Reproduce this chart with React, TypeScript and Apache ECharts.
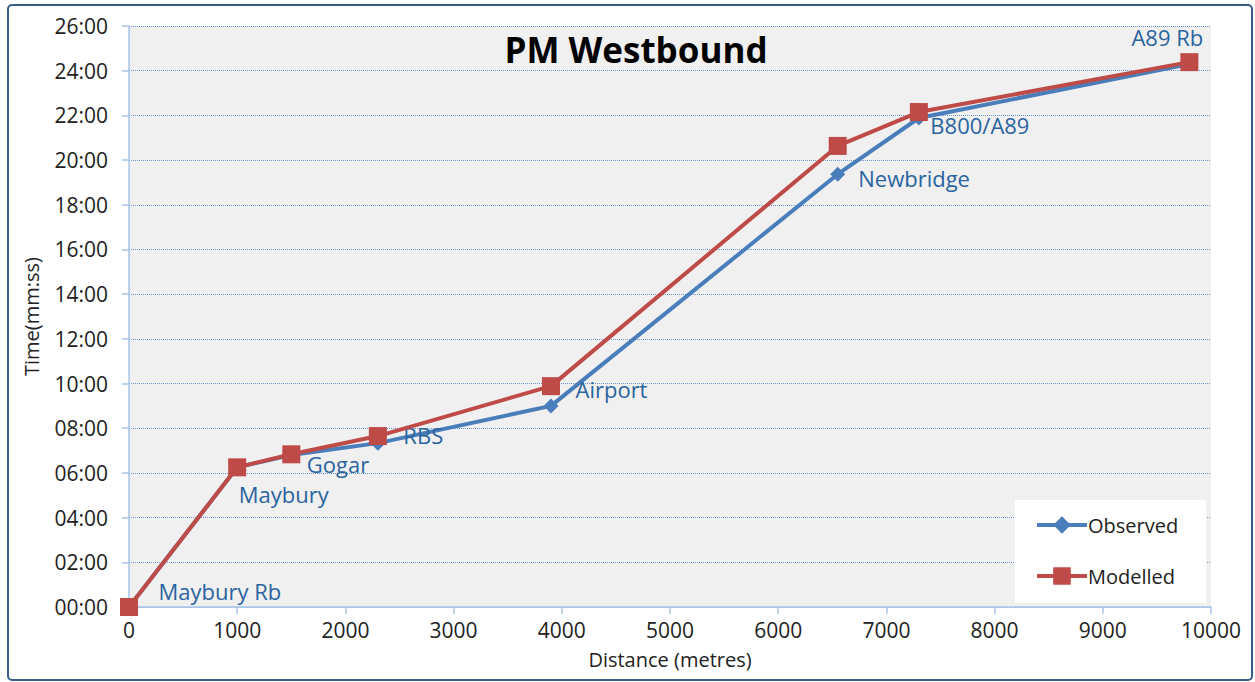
import React, { useEffect, useRef } from "react";
import * as echarts from "echarts";

const stations = ["Maybury Rb", "Maybury", "Gogar", "RBS", "Airport", "Newbridge", "B800/A89", "A89 Rb"];
const distances = [0, 1000, 1500, 2300, 3900, 6550, 7300, 9800];
// times in seconds
const observed = [0, 375, 408, 440, 540, 1162, 1313, 1458];
const modelled = [0, 375, 410, 459, 593, 1238, 1329, 1463];
const labelOffsets: [number, number][] = [
  [17, -16], [-11, 27], [3, 9], [13, -8], [12, -17], [8, 4], [-1, 7], [-22, -3],
];

const fmt = (v: number) => {
  const m = Math.floor(v / 60);
  const s = Math.round(v - m * 60);
  return String(m).padStart(2, "0") + ":" + String(s).padStart(2, "0");
};

const FONT = "Open Sans";

export default function App() {
  const ref = useRef<HTMLDivElement>(null);
  useEffect(() => {
    document.body.style.margin = "0";
    const chart = echarts.init(ref.current!, null, { renderer: "svg" });
    const obsData = distances.map((d, i) => ({
      value: [d, observed[i]],
      label: {
        show: true,
        formatter: stations[i],
        position: i === 7 ? "top" : "right",
        distance: 5,
        offset: labelOffsets[i],
        color: "#2a64a0",
        fontSize: 22,
        fontFamily: FONT,
      },
    }));
    chart.setOption({
      animation: false,
      backgroundColor: "#ffffff",
      textStyle: { fontFamily: FONT },
      title: {
        text: "PM Westbound",
        left: 631,
        top: 27,
        textAlign: "center",
        textStyle: { fontFamily: FONT, fontWeight: "bold", fontSize: 35, color: "#000" },
      },
      graphic: [
        {
          type: "rect",
          shape: { x: 8, y: 5, width: 1244, height: 675, r: 4 },
          style: { fill: "none", stroke: "#385d8a", lineWidth: 2 },
          z: 100,
        },
      ],
      legend: {
        orient: "vertical",
        left: 1015,
        top: 500,
        padding: [15, 28, 17, 20],
        itemGap: 31,
        itemWidth: 50,
        itemHeight: 22,
        backgroundColor: "#ffffff",
        lineStyle: { width: 4 },
        textStyle: { fontSize: 20, color: "#222", fontFamily: FONT, padding: [0, 0, 0, -4] },
        data: ["Observed", "Modelled"],
      },
      grid: {
        left: 129,
        right: 44,
        top: 26,
        bottom: 75,
        show: true,
        backgroundColor: "#f0f0f0",
        borderWidth: 0,
      },
      xAxis: {
        type: "value",
        min: 0,
        max: 10000,
        interval: 1000,
        name: "Distance (metres)",
        nameLocation: "middle",
        nameGap: 42,
        nameTextStyle: { fontSize: 20, color: "#222", fontFamily: FONT },
        axisLine: { show: true, lineStyle: { color: "#a8c4e8", width: 1.5 } },
        axisTick: { show: true, length: 7, inside: false, lineStyle: { color: "#a8c4e8", width: 1.5 } },
        axisLabel: { fontSize: 21, color: "#222", margin: 12, fontFamily: FONT, formatter: (v: number) => String(v) },
        splitLine: { show: false },
      },
      yAxis: {
        type: "value",
        min: 0,
        max: 1560,
        interval: 120,
        name: "Time(mm:ss)",
        nameLocation: "middle",
        nameGap: 88,
        nameRotate: 90,
        nameTextStyle: { fontSize: 20, color: "#222", fontFamily: FONT },
        axisLine: { show: true, lineStyle: { color: "#a8c4e8", width: 1.5 } },
        axisTick: { show: true, length: 7, lineStyle: { color: "#a8c4e8", width: 1.5 } },
        axisLabel: { fontSize: 21, color: "#222", margin: 21, fontFamily: FONT, formatter: fmt },
        splitLine: { show: true, lineStyle: { color: "#6a98d6", type: [1, 1], width: 1 } },
      },
      series: [
        {
          name: "Observed",
          type: "line",
          data: obsData,
          symbol: "diamond",
          symbolSize: 15,
          color: "#4a7ebb",
          lineStyle: { width: 4, color: "#4a7ebb" },
          itemStyle: { color: "#4a7ebb" },
          z: 2,
        },
        {
          name: "Modelled",
          type: "line",
          data: distances.map((d, i) => [d, modelled[i]]),
          symbol: "rect",
          symbolSize: 18,
          color: "#be4b48",
          lineStyle: { width: 4, color: "#be4b48" },
          itemStyle: { color: "#be4b48" },
          z: 3,
        },
      ],
    });
    return () => chart.dispose();
  }, []);
  return <div ref={ref} style={{ width: 1255, height: 682 }} />;
}
